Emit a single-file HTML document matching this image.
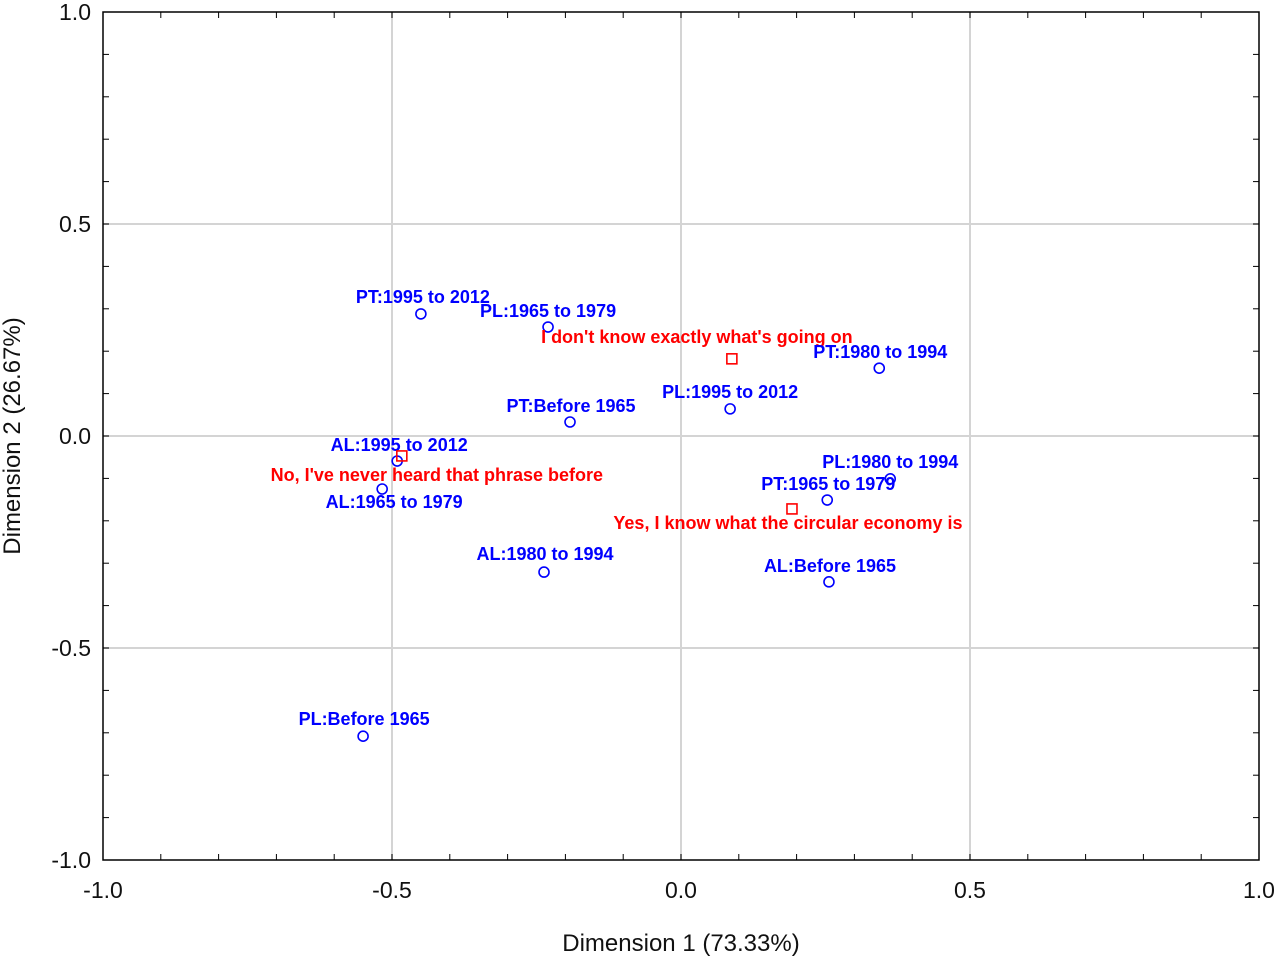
<!DOCTYPE html>
<html><head><meta charset="utf-8"><style>
body{margin:0;background:#fff;}
svg{display:block;font-family:"Liberation Sans",sans-serif;}
.lbl{font-family:"Liberation Sans",sans-serif;font-weight:bold;font-size:18px;text-anchor:middle;}
</style></head><body>
<svg id="chart" width="1280" height="958" viewBox="0 0 1280 958"></svg>
<script>
const labels=["PT:1995 to 2012","PL:1965 to 1979","I don't know exactly what's going on","PT:1980 to 1994","PL:1995 to 2012","PT:Before 1965","AL:1995 to 2012","No, I've never heard that phrase before","AL:1965 to 1979","PL:1980 to 1994","PT:1965 to 1979","Yes, I know what the circular economy is","AL:1980 to 1994","AL:Before 1965","PL:Before 1965"];
const dim1=[-0.45,-0.23,0.088,0.343,0.085,-0.192,-0.491,-0.483,-0.517,0.362,0.253,0.192,-0.237,0.256,-0.55];
const dim2=[0.288,0.257,0.182,0.160,0.064,0.033,-0.059,-0.047,-0.125,-0.101,-0.151,-0.172,-0.321,-0.344,-0.708];
const kinds=["c","c","s","c","c","c","c","s","c","c","c","s","c","c","c"];
const ticks=[-1.0,-0.5,0.0,0.5,1.0];
const tickText=["-1.0","-0.5","0.0","0.5","1.0"];
const offs=[[2,-11],[0,-10],[-35,-16],[1,-10],[0,-11],[1,-10],[2,-10],[35,25],[12,19],[0,-11],[1,-10],[-4,20],[1,-12],[1,-10],[1,-11]];
const L=103,R=1259,T=12,B=860;
const X=v=>L+(v+1)/2*(R-L), Y=v=>B-(v+1)/2*(B-T);
const svg=document.getElementById('chart'),NS="http://www.w3.org/2000/svg";
function mk(t,a,p){const e=document.createElementNS(NS,t);for(const k in a)e.setAttribute(k,a[k]);(p||svg).appendChild(e);return e;}
ticks.forEach((t,i)=>{
 if(t>-1&&t<1){
  const g=mk('line',{x1:X(t),x2:X(t),y1:T,y2:B,stroke:'#d4d4d4','stroke-width':2});
  
  const h=mk('line',{x1:L,x2:R,y1:Y(t),y2:Y(t),stroke:'#d4d4d4','stroke-width':2});
  
 }
 const xt=mk('text',{x:X(t),y:B+38,'font-size':23,'text-anchor':'middle',fill:'#111'});xt.textContent=tickText[i];
 
 const yt=mk('text',{x:L-12,y:Y(t)+8,'font-size':23,'text-anchor':'end',fill:'#111'});yt.textContent=tickText[i];
 
});
for(let k=-10;k<=10;k++){const v=k/10;
 mk('line',{x1:X(v),x2:X(v),y1:B,y2:B-6,stroke:'#000'});
 mk('line',{x1:X(v),x2:X(v),y1:T,y2:T+6,stroke:'#000'});
 mk('line',{x1:L,x2:L+6,y1:Y(v),y2:Y(v),stroke:'#000'});
 mk('line',{x1:R,x2:R-6,y1:Y(v),y2:Y(v),stroke:'#000'});
}
const fr=mk('rect',{x:L,y:T,width:R-L,height:B-T,fill:'none',stroke:'#000','stroke-width':1.5});

labels.forEach((s,i)=>{
 const cx=X(dim1[i]),cy=Y(dim2[i]),col=kinds[i]=='s'?'#f00':'#00f';
 let m;
 if(kinds[i]=='s') m=mk('rect',{x:cx-5,y:cy-5,width:10,height:10,fill:'none',stroke:col,'stroke-width':1.6});
 else m=mk('circle',{cx:cx,cy:cy,r:5,fill:'none',stroke:col,'stroke-width':1.6});
 
 
 const t=mk('text',{x:cx+offs[i][0],y:cy+offs[i][1],class:'lbl',fill:col});t.textContent=s;
 
});
const xa=mk('text',{x:681,y:951,'font-size':24,'text-anchor':'middle',fill:'#111'});xa.textContent="Dimension 1 (73.33%)";

const ya=mk('text',{x:20,y:436,'font-size':24,'text-anchor':'middle',fill:'#111',transform:'rotate(-90 20 436)'});ya.textContent="Dimension 2 (26.67%)";

</script>
</body></html>
